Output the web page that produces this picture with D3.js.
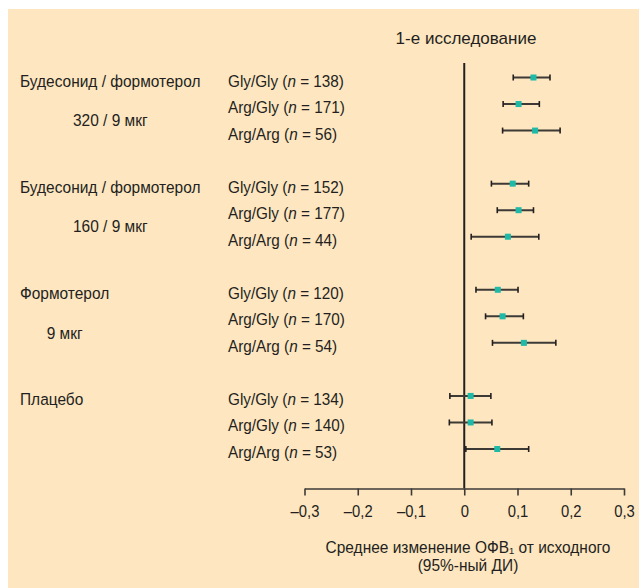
<!DOCTYPE html>
<html>
<head>
<meta charset="utf-8">
<script src="https://cdn.jsdelivr.net/npm/d3@7"></script>
<style>
  html, body { margin: 0; padding: 0; background: #ffffff; }
  svg { display: block; }
  text { font-family: "Liberation Sans", Arial, sans-serif; fill: #231f20; }
</style>
</head>
<body>
<svg id="chart" width="639" height="588"></svg>
<script>
// ---- data ----
const title = "1-е исследование";
const groupNames = ["Будесонид / формотерол", "Будесонид / формотерол", "Формотерол", "Плацебо"];
const groupDoses = ["320 / 9 мкг", "160 / 9 мкг", "9 мкг", ""];
const genotypes = ["Gly/Gly", "Arg/Gly", "Arg/Arg"];
const nValues = [138, 171, 56, 152, 177, 44, 120, 170, 54, 134, 140, 53];
const means = [0.130, 0.102, 0.133, 0.091, 0.102, 0.082, 0.063, 0.072, 0.112, 0.012, 0.012, 0.062];
const lowerCI = [0.092, 0.073, 0.072, 0.051, 0.062, 0.013, 0.022, 0.040, 0.053, -0.027, -0.028, 0.003];
const upperCI = [0.161, 0.141, 0.180, 0.121, 0.130, 0.140, 0.101, 0.111, 0.172, 0.050, 0.052, 0.121];
const tickValues = [-0.3, -0.2, -0.1, 0, 0.1, 0.2, 0.3];
const axisTitle1 = "Среднее изменение ОФВ\u2081 от исходного";
const axisTitle2 = "(95%-ный ДИ)";

// ---- build rows ----
const rows = nValues.map((n, i) => ({
  group: Math.floor(i / 3),
  geno: genotypes[i % 3],
  n: n,
  mean: means[i],
  lo: lowerCI[i],
  hi: upperCI[i],
  slot: Math.floor(i / 3) * 4 + (i % 3)
}));

const svg = d3.select("#chart");
const W = 639, H = 588;
const SX = 0.91;   // condensed look
const fs = 17;

function addText(px, py, str, anchor, sx) {
  const s = sx === undefined ? SX : sx;
  return svg.append("text")
    .attr("transform", `translate(${px},${py}) scale(${s},1)`)
    .attr("text-anchor", anchor || "start")
    .style("font-size", fs + "px")
    .text(str);
}

// background panel
svg.append("rect").attr("x", 8).attr("y", 9).attr("width", W - 8).attr("height", H - 9).attr("fill", "#fee6c1");

const x = d3.scaleLinear().domain([-0.3, 0.3]).range([304.5, 624]);
const y = d3.scaleLinear().domain([0, 14]).range([77.5, 449]);
const axisY = 488.5;

// title
addText(466, 44, title, "middle", 1.0);

// zero line
svg.append("line").attr("x1", x(0)).attr("x2", x(0)).attr("y1", 63).attr("y2", axisY)
  .attr("stroke", "#231f20").attr("stroke-width", 2);

// axis
const loc = d3.formatLocale({decimal: ",", thousands: " ", grouping: [3], currency: ["", ""], minus: "\u2013"});
const fmt = v => v === 0 ? "0" : loc.format(".1f")(v);
const axis = d3.axisBottom(x).tickValues(tickValues).tickFormat(fmt).tickSize(7).tickSizeOuter(0).tickPadding(9);
const gAxis = svg.append("g").attr("transform", `translate(0,${axisY})`).call(axis);
gAxis.select(".domain").attr("stroke", "#3d3a36").attr("stroke-width", 1.6);
gAxis.selectAll(".tick line").attr("stroke", "#3d3a36").attr("stroke-width", 1.6);
gAxis.selectAll(".tick text").style("font-size", fs + "px").attr("fill", "#231f20")
  .style("font-family", '"Liberation Sans", Arial, sans-serif')
  .attr("transform", "scale(0.87,1)");

// axis title
addText(468, 553, axisTitle1, "middle");
addText(468, 571, axisTitle2, "middle");

// group labels
groupNames.forEach((g, gi) => {
  const t = addText(20, y(gi * 4) + 9, g);
  const w = t.node().getComputedTextLength() * SX;
  if (groupDoses[gi]) {
    addText(20 + w / 2, (y(gi * 4 + 1) + y(gi * 4 + 2)) / 2 + 9, groupDoses[gi], "middle");
  }
});

// genotype labels
rows.forEach(r => {
  const t = addText(228, y(r.slot) + 9, "", "start", 0.9);
  t.append("tspan").text(r.geno + " (");
  t.append("tspan").style("font-style", "italic").text("n");
  t.append("tspan").text(" = " + r.n + ")");
});

// error bars
const gBars = svg.append("g");
rows.forEach(r => {
  const yy = y(r.slot);
  gBars.append("line").attr("x1", x(r.lo)).attr("x2", x(r.hi)).attr("y1", yy).attr("y2", yy)
    .attr("stroke", "#3d3a36").attr("stroke-width", 2);
  [r.lo, r.hi].forEach(v => {
    gBars.append("line").attr("x1", x(v)).attr("x2", x(v)).attr("y1", yy - 3).attr("y2", yy + 3)
      .attr("stroke", "#231f20").attr("stroke-width", 1.6);
  });
  gBars.append("rect").attr("x", x(r.mean) - 3).attr("y", yy - 3).attr("width", 6).attr("height", 6)
    .attr("fill", "#1fb9a8");
});
</script>
</body>
</html>
